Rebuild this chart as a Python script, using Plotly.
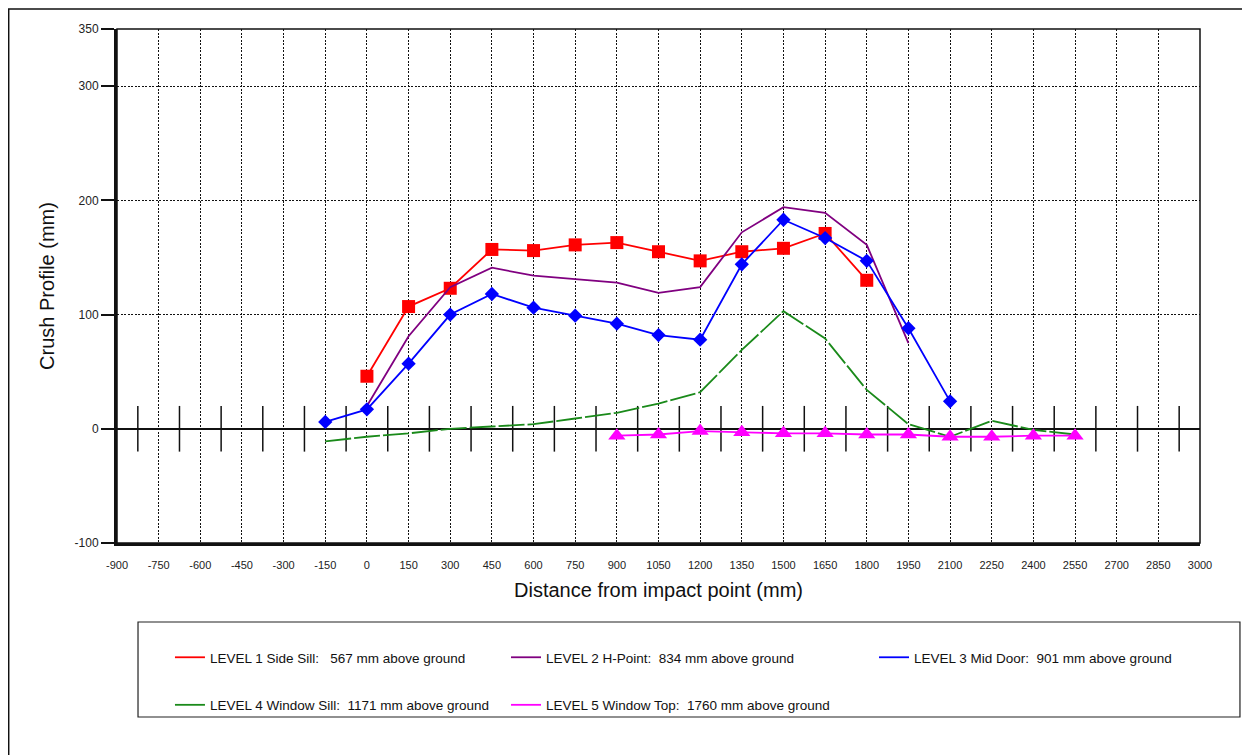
import plotly.graph_objects as go

# ---- data ----
x_ticks = [-900, -750, -600, -450, -300, -150, 0, 150, 300, 450, 600, 750, 900, 1050,
           1200, 1350, 1500, 1650, 1800, 1950, 2100, 2250, 2400, 2550, 2700, 2850, 3000]
y_ticks = [-100, 0, 100, 200, 300, 350]
zero_marks_x = [-825, -675, -525, -375, -225, -75, 75, 225, 375, 525, 675, 825, 975, 1125,
                1275, 1425, 1575, 1725, 1875, 2025, 2175, 2325, 2475, 2625, 2775, 2925]

l1_x = [0, 150, 300, 450, 600, 750, 900, 1050, 1200, 1350, 1500, 1650, 1800]
l1_y = [46, 107, 123, 157, 156, 161, 163, 155, 147, 155, 158, 171, 130]

l2_x = [0, 150, 300, 450, 600, 750, 900, 1050, 1200, 1350, 1500, 1650, 1800, 1950]
l2_y = [20, 81, 124, 141, 134, 131, 128, 119, 124, 172, 194, 189, 161, 75]

l3_x = [-150, 0, 150, 300, 450, 600, 750, 900, 1050, 1200, 1350, 1500, 1650, 1800, 1950, 2100]
l3_y = [6, 17, 57, 100, 118, 106, 99, 92, 82, 78, 144, 183, 167, 147, 88, 24]

l4_x = [-150, 0, 150, 300, 450, 600, 750, 900, 1050, 1200, 1350, 1500, 1650, 1800, 1950,
        2100, 2250, 2400, 2550]
l4_y = [-11, -7, -4, 0, 2, 4, 9, 14, 22, 32, 69, 103, 79, 34, 4, -7, 7, -1, -5]

l5_x = [900, 1050, 1200, 1350, 1500, 1650, 1800, 1950, 2100, 2250, 2400, 2550]
l5_y = [-6, -5, -2, -3, -4, -4, -5, -5, -7, -7, -6, -6]

names = [
    "LEVEL 1 Side Sill:   567 mm above ground",
    "LEVEL 2 H-Point:  834 mm above ground",
    "LEVEL 3 Mid Door:  901 mm above ground",
    "LEVEL 4 Window Sill:  1171 mm above ground",
    "LEVEL 5 Window Top:  1760 mm above ground",
]

FONT = "Liberation Sans, Arial, sans-serif"
C1, C2, C3, C4, C5 = "#ff0000", "#800080", "#0000ff", "#1a8a1a", "#ff00ff"
LW = 1.8

fig = go.Figure()

# zero-line vertical marks
fig.add_trace(go.Scatter(
    x=zero_marks_x, y=[0] * len(zero_marks_x), mode="markers",
    marker=dict(size=1, color="rgba(0,0,0,0)"),
    error_y=dict(type="constant", value=20, width=0, thickness=1.5, color="#111"),
    showlegend=False, hoverinfo="skip"))

# Level 1
fig.add_trace(go.Scatter(x=l1_x, y=l1_y, name=names[0], mode="lines",
                         line=dict(color=C1, width=LW), legend="legend", legendgroup="g1"))
fig.add_trace(go.Scatter(x=l1_x, y=l1_y, name=names[0], mode="markers",
                         marker=dict(symbol="square", size=13, color=C1),
                         showlegend=False, legendgroup="g1"))
# Level 2
fig.add_trace(go.Scatter(x=l2_x, y=l2_y, name=names[1], mode="lines",
                         line=dict(color=C2, width=LW), legend="legend2", legendgroup="g2"))
# Level 3
fig.add_trace(go.Scatter(x=l3_x, y=l3_y, name=names[2], mode="lines",
                         line=dict(color=C3, width=LW), legend="legend3", legendgroup="g3"))
fig.add_trace(go.Scatter(x=l3_x, y=l3_y, name=names[2], mode="markers",
                         marker=dict(symbol="diamond", size=11, color=C3),
                         showlegend=False, legendgroup="g3"))
# Level 4 (dashed in plot, solid legend sample)
fig.add_trace(go.Scatter(x=l4_x, y=l4_y, name=names[3], mode="lines",
                         line=dict(color=C4, width=LW, dash="26px,3px"),
                         showlegend=False, legendgroup="g4"))
fig.add_trace(go.Scatter(x=[None], y=[None], name=names[3], mode="lines",
                         line=dict(color=C4, width=LW), legend="legend", legendgroup="g4"))
# Level 5
fig.add_trace(go.Scatter(x=l5_x, y=l5_y, name=names[4], mode="lines",
                         line=dict(color=C5, width=LW), legend="legend2", legendgroup="g5"))
fig.add_trace(go.Scatter(x=l5_x, y=l5_y, name=names[4], mode="markers",
                         marker=dict(symbol="triangle-up", size=15, color=C5),
                         showlegend=False, legendgroup="g5"))

grid_dash = "2px,1.5px"

fig.update_xaxes(
    range=[-900, 3000], tickvals=x_ticks, ticktext=[str(v) for v in x_ticks],
    showgrid=True, gridcolor="#111", gridwidth=1, griddash=grid_dash,
    zeroline=False, showline=True, linecolor="#111", linewidth=3,
    ticks="", ticklabelstandoff=10,
    tickfont=dict(family=FONT, size=11, color="#222"),
    title=dict(text="Distance from impact point (mm)", standoff=13,
               font=dict(family=FONT, size=20, color="#111")))
fig.update_yaxes(
    range=[-100, 350], tickvals=y_ticks, ticktext=[str(v) for v in y_ticks],
    showgrid=True, gridcolor="#111", gridwidth=1, griddash=grid_dash,
    zeroline=True, zerolinecolor="#111", zerolinewidth=1.5,
    showline=True, linecolor="#111", linewidth=3,
    ticks="outside", ticklen=13, tickwidth=1.5, tickcolor="#111",
    tickfont=dict(family=FONT, size=12, color="#222"),
    title=dict(text="Crush Profile (mm)", standoff=15,
               font=dict(family=FONT, size=20, color="#111")))

leg_common = dict(orientation="v", traceorder="grouped", tracegroupgap=27,
                  bgcolor="rgba(0,0,0,0)", borderwidth=0,
                  font=dict(family=FONT, size=13.5, color="#111"),
                  xanchor="left", yanchor="top", y=-0.1926)

fig.update_layout(
    width=1250, height=755,
    margin=dict(l=109, r=58, t=21, b=220),
    paper_bgcolor="white", plot_bgcolor="white",
    legend=dict(x=0.0489, **leg_common),
    legend2=dict(x=0.3592, **leg_common),
    legend3=dict(x=0.699, **leg_common),
    shapes=[
        # plot frame (top/right)
        dict(type="rect", xref="paper", yref="paper", x0=0, x1=1, y0=0, y1=1,
             line=dict(color="#111", width=1.5), layer="above"),
        # legend box
        dict(type="rect", xref="paper", yref="paper", x0=0.0194, x1=1.0369,
             y0=-0.3385, y1=-0.1537, line=dict(color="#222", width=1.2)),
        # outer frame
        dict(type="rect", xref="paper", yref="paper", x0=-0.1000, x1=1.2,
             y0=-0.5, y1=1.0389, line=dict(color="#111", width=1.5)),
    ],
)

fig.write_html("out.html")
